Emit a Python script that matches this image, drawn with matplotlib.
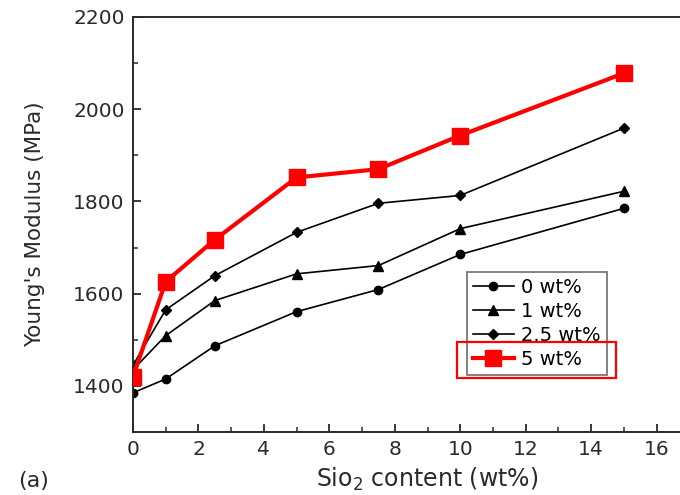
import matplotlib
matplotlib.use('Agg')
import matplotlib.pyplot as plt
import matplotlib.patches as patches
from matplotlib.ticker import MultipleLocator

plt.rcParams['font.family'] = ['DejaVu Sans']

# SiO2 content (wt%) and Young's modulus (MPa) for each filler loading
sio2 = [0, 1, 2.5, 5, 7.5, 10, 15]
labels = ['0 wt%', '1 wt%', '2.5 wt%', '5 wt%']
mod_0 = [1385, 1415, 1487, 1561, 1609, 1685, 1785]
mod_1 = [1435, 1509, 1585, 1643, 1661, 1741, 1822]
mod_25 = [1445, 1565, 1639, 1733, 1796, 1813, 1959]
mod_5 = [1420, 1626, 1717, 1852, 1870, 1943, 2078]
x_ticks = [0, 2, 4, 6, 8, 10, 12, 14, 16]

ink = '#2a2a2a'

fig = plt.figure(figsize=(6.8, 4.95), dpi=100, facecolor='white')
# axes run past the right edge of the canvas (x up to 18)
ax = fig.add_axes([133 / 680, 63 / 495, 589 / 680, 415 / 495])

ax.plot(sio2, mod_0, color='black', lw=1.2, marker='o', ms=6, label=labels[0])
ax.plot(sio2, mod_1, color='black', lw=1.2, marker='^', ms=7, label=labels[1])
ax.plot(sio2, mod_25, color='black', lw=1.2, marker='D', ms=5.5, label=labels[2])
ax.plot(sio2, mod_5, color='#ff0000', lw=3.0, marker='s', ms=11, label=labels[3],
        zorder=5)

ax.set_xlim(0, 18)
ax.set_ylim(1300, 2200)
ax.set_xticks(x_ticks)
ax.xaxis.set_minor_locator(MultipleLocator(1))
ax.yaxis.set_major_locator(MultipleLocator(200))
ax.yaxis.set_minor_locator(MultipleLocator(100))
ax.tick_params(which='major', direction='in', length=6, width=1.3, labelsize=14.5,
               colors=ink, pad=6)
ax.tick_params(which='minor', direction='in', length=3.5, width=1.1, colors=ink)
ax.tick_params(top=False, right=False)
ax.spines['right'].set_visible(False)
for side in ('left', 'bottom', 'top'):
    ax.spines[side].set_linewidth(1.4)
    ax.spines[side].set_color(ink)

ax.set_xlabel('Sio$_2$ content (wt%)', fontsize=17, color=ink, labelpad=5)
ax.set_ylabel("Young's Modulus (MPa)", fontsize=15.5, color=ink, labelpad=20)

leg = ax.legend(loc='upper left', bbox_to_anchor=(467 / 680, 1 - 272 / 495),
                bbox_transform=fig.transFigure, fontsize=14,
                frameon=True, fancybox=False, edgecolor='#555555',
                handlelength=2.1, handletextpad=0.4, borderpad=0.3,
                labelspacing=0.26, borderaxespad=0)
leg.get_frame().set_linewidth(1.3)

# red highlight box around the 5 wt% legend entry
fig.add_artist(patches.Rectangle((457 / 680, 1 - 378 / 495), 159 / 680, 36 / 495,
                                 transform=fig.transFigure, fill=False,
                                 edgecolor='#ff0000', lw=1.6, zorder=10))

fig.text(18 / 680, 1 - 481 / 495, '(a)', fontsize=16, color=ink,
         va='center', ha='left')

fig.savefig('out.png', dpi=100, facecolor='white')
